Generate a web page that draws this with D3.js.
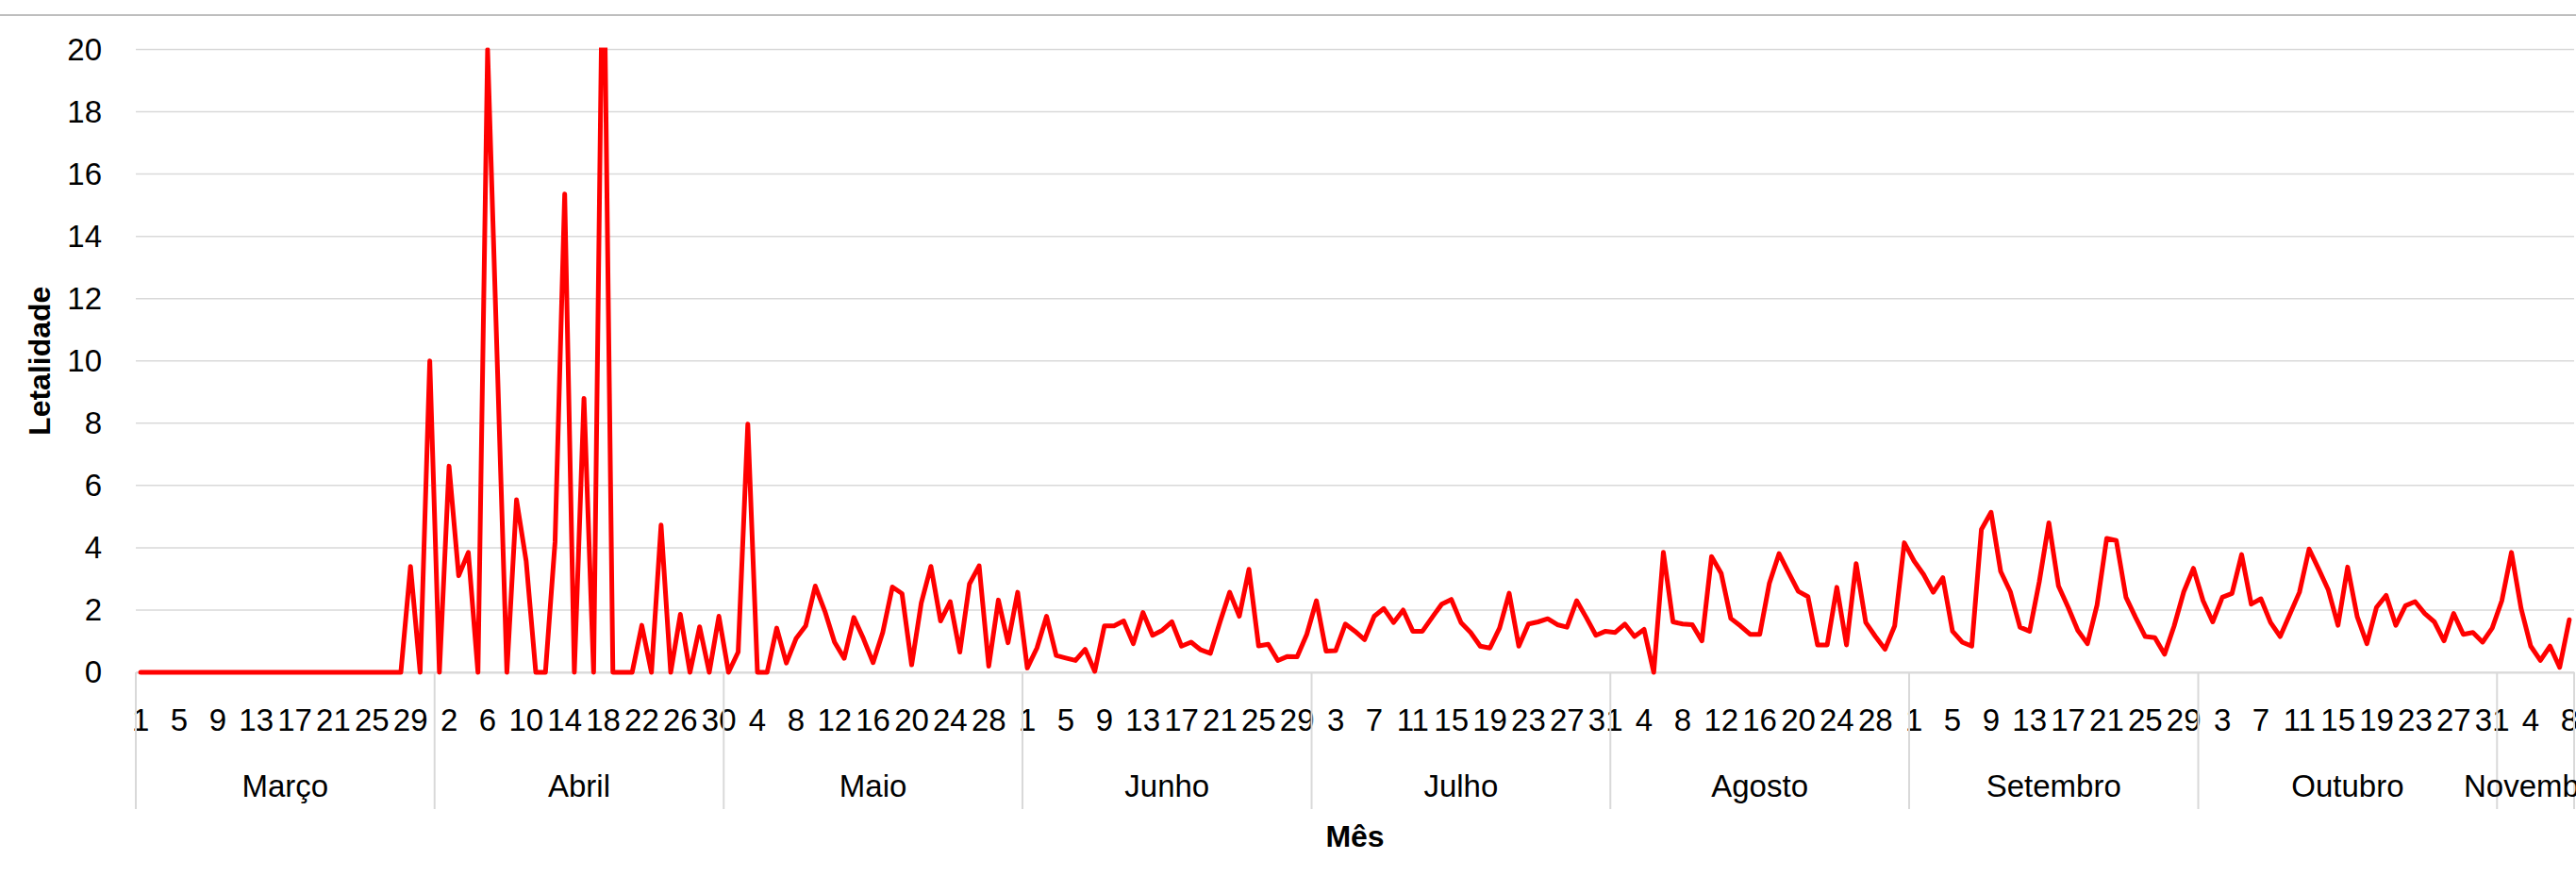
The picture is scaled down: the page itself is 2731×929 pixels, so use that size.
<!DOCTYPE html>
<html>
<head>
<meta charset="utf-8">
<script src="https://cdn.jsdelivr.net/npm/d3@7"></script>
<style>
  body { margin: 0; background: #fff; }
  svg { display: block; font-family: 'Liberation Sans', Arial, sans-serif; }
</style>
</head>
<body>
<main></main>
<script>
// months and daily values (Letalidade)
var months = ['Março', 'Abril', 'Maio', 'Junho', 'Julho', 'Agosto', 'Setembro', 'Outubro', 'Novembro']

var marco = [0, 0, 0, 0, 0, 0, 0, 0, 0, 0, 0, 0, 0, 0, 0, 0, 0, 0, 0, 0,
    0, 0, 0, 0, 0, 0, 0, 0, 3.4, 0, 10]
var abril = [0, 6.62, 3.1, 3.85, 0, 20, 10, 0, 5.54, 3.58, 0, 0, 4.19, 15.36, 0,
    8.8, 0, 25, 0, 0, 0, 1.51, 0, 4.73, 0, 1.86, 0, 1.46, 0, 1.8]
var maio = [0, 0.65, 7.97, 0, 0, 1.42, 0.3, 1.08, 1.49, 2.77, 1.96, 0.97, 0.45, 1.76, 1.08,
    0.31, 1.28, 2.74, 2.53, 0.24, 2.23, 3.4, 1.65, 2.27, 0.65, 2.84, 3.42, 0.2, 2.32, 0.95, 2.57]
var junho = [0.14, 0.78, 1.8, 0.54, 0.46, 0.38, 0.74, 0.03, 1.49, 1.49, 1.65, 0.92, 1.92, 1.19, 1.35,
    1.62, 0.84, 0.97, 0.72, 0.61, 1.62, 2.57, 1.8, 3.31, 0.85, 0.9, 0.38, 0.51, 0.5, 1.22]
var julho = [2.3, 0.68, 0.7, 1.55, 1.32, 1.05, 1.8, 2.05, 1.6, 2.0, 1.32, 1.32, 1.76, 2.19, 2.34,
    1.6, 1.28, 0.84, 0.78, 1.42, 2.54, 0.84, 1.55, 1.62, 1.72, 1.53, 1.45, 2.3, 1.76, 1.19, 1.32]
var agosto = [1.28, 1.55, 1.15, 1.38, 0, 3.85, 1.62, 1.55, 1.53, 1.01, 3.72, 3.18, 1.73, 1.49, 1.22,
    1.22, 2.86, 3.81, 3.2, 2.6, 2.43, 0.88, 0.88, 2.73, 0.88, 3.49, 1.6, 1.15, 0.74, 1.49, 4.16]
var setembro = [3.58, 3.14, 2.57, 3.04, 1.32, 0.97, 0.84, 4.59, 5.14, 3.24, 2.59, 1.45, 1.32, 2.9, 4.8,
    2.77, 2.09, 1.35, 0.92, 2.16, 4.3, 4.23, 2.41, 1.76, 1.15, 1.11, 0.58, 1.49, 2.59, 3.34]
var outubro = [2.3, 1.62, 2.41, 2.53, 3.78, 2.19, 2.36, 1.6, 1.15, 1.86, 2.57, 3.96, 3.31, 2.64, 1.51,
    3.38, 1.78, 0.92, 2.09, 2.47, 1.51, 2.14, 2.27, 1.89, 1.62, 1.01, 1.89, 1.22, 1.28, 0.97, 1.42]
var novembro = [2.3, 3.85, 2.05, 0.84, 0.38, 0.84, 0.16, 1.69]

var monthValues = [marco, abril, maio, junho, julho, agosto, setembro, outubro, novembro]
var yTicks = [0, 2, 4, 6, 8, 10, 12, 14, 16, 18, 20]

// flatten into one category list
var data = []
monthValues.forEach((vals, m) => {
    vals.forEach((v, d) => {
        data.push({ i: data.length, month: m, day: d + 1, value: v })
    })
})

var W = 2731, H = 929
var margin = { top: 52.5, left: 144, right: 2, bottom: 216 }
var plotBottom = H - margin.bottom

var svg = d3.select('main').append('svg')
    .attr('width', W)
    .attr('height', H)

// chart border line at top
svg.append('line')
    .attr('x1', 0).attr('x2', W)
    .attr('y1', 16).attr('y2', 16)
    .attr('stroke', '#a9a9a9')
    .attr('stroke-width', 1.5)

var x = d3.scaleBand()
    .domain(data.map(d => d.i))
    .range([margin.left, W - margin.right])
var y = d3.scaleLinear()
    .domain([0, 20])
    .range([plotBottom, margin.top])

// gridlines
svg.append('g')
    .selectAll('line')
    .data(yTicks)
    .enter()
    .append('line')
    .attr('x1', margin.left)
    .attr('x2', W - margin.right)
    .attr('y1', d => y(d))
    .attr('y2', d => y(d))
    .attr('stroke', '#d9d9d9')
    .attr('stroke-width', 1.5)

// y axis labels
var yAxis = svg.append('g')
    .attr('transform', `translate(${margin.left}, 0)`)
    .call(d3.axisLeft(y).tickValues(yTicks).tickSize(0).tickPadding(36))
yAxis.select('.domain').remove()
yAxis.selectAll('text')
    .attr('font-size', 33)
    .attr('font-family', "'Liberation Sans', Arial, sans-serif")
    .attr('fill', '#000')

// day labels, every 4th category
var xAxis = svg.append('g')
    .attr('transform', `translate(0, ${plotBottom})`)
    .call(d3.axisBottom(x)
        .tickValues(data.filter(d => d.i % 4 === 0).map(d => d.i))
        .tickSize(0)
        .tickFormat(i => data[i].day))
xAxis.select('.domain')
    .attr('stroke', '#d9d9d9')
    .attr('stroke-width', 2)
xAxis.selectAll('text')
    .attr('y', 39)
    .attr('dy', '0.71em')
    .attr('font-size', 33)
    .attr('font-family', "'Liberation Sans', Arial, sans-serif")
    .attr('fill', '#000')

// month groups
var groups = months.map((name, m) => {
    let days = data.filter(d => d.month === m)
    return { name: name, first: days[0].i, last: days[days.length - 1].i }
})
var bounds = groups.map(g => x(g.first)).concat([x(groups[groups.length - 1].last) + x.bandwidth()])

svg.append('g')
    .selectAll('line')
    .data(bounds)
    .enter()
    .append('line')
    .attr('x1', d => d)
    .attr('x2', d => d)
    .attr('y1', plotBottom)
    .attr('y2', plotBottom + 145)
    .attr('stroke', '#d9d9d9')
    .attr('stroke-width', 2)

svg.append('g')
    .selectAll('text')
    .data(groups)
    .enter()
    .append('text')
    .attr('x', g => (x(g.first) + x(g.last) + x.bandwidth()) / 2)
    .attr('y', 845)
    .attr('text-anchor', 'middle')
    .attr('font-size', 33)
    .text(g => g.name)

// clip to the plot area
svg.append('clipPath')
    .attr('id', 'plot-clip')
    .append('rect')
    .attr('x', margin.left)
    .attr('y', margin.top - 2)
    .attr('width', W - margin.left)
    .attr('height', plotBottom - margin.top + 10)

var valueline = d3.line()
    .x(d => x(d.i) + x.bandwidth() / 2)
    .y(d => y(d.value))

svg.append('path')
    .datum(data)
    .attr('clip-path', 'url(#plot-clip)')
    .attr('fill', 'none')
    .attr('stroke', '#ff0000')
    .attr('stroke-width', 5)
    .attr('stroke-linejoin', 'round')
    .attr('stroke-linecap', 'round')
    .attr('d', valueline)

// axis titles
svg.append('text')
    .attr('transform', `translate(53, ${(plotBottom + margin.top) / 2}) rotate(-90)`)
    .attr('text-anchor', 'middle')
    .attr('font-size', 32)
    .attr('font-weight', 'bold')
    .text('Letalidade')

svg.append('text')
    .attr('x', (margin.left + W - margin.right) / 2)
    .attr('y', 898)
    .attr('text-anchor', 'middle')
    .attr('font-size', 32)
    .attr('font-weight', 'bold')
    .text('Mês')
</script>
</body>
</html>
